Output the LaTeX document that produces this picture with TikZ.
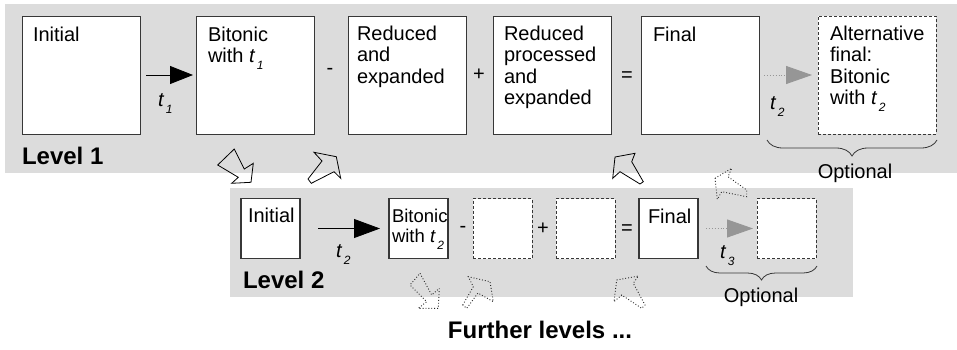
\documentclass[tikz,border=0pt]{standalone}
\usepackage{fontspec}
\setmainfont{Liberation Sans}
\usetikzlibrary{arrows.meta,decorations.pathreplacing,calc}
\definecolor{band}{RGB}{220,220,220}
\definecolor{edge}{RGB}{55,55,55}
\definecolor{optgray}{RGB}{150,150,150}
\newcommand{\tsub}[1]{\textit{t}\kern1.5pt\raisebox{-7pt}{\fontsize{12}{12}\selectfont\textit{#1}}}
\begin{document}
\begin{tikzpicture}[x=1pt,y=-1pt,
  every node/.style={inner sep=0pt, outer sep=0pt, font=\fontsize{20}{21.5}\selectfont},
  bigbox/.style={draw=edge, line width=0.9pt, fill=white, minimum width=118pt, minimum height=118pt, anchor=north west},
  bigdash/.style={bigbox, dash pattern=on 3pt off 2pt},
  smallbox/.style={draw=edge, line width=1.1pt, fill=white, minimum width=59pt, minimum height=60pt, anchor=north west},
  smalldash/.style={smallbox, line width=0.8pt, dash pattern=on 3pt off 2pt},
  boxtext/.style={anchor=north west, align=left},
  optext/.style={anchor=center},
  blkarrow/.style={-{Triangle[length=23pt,width=18pt]}, line width=0.8pt, draw=black},
  blkarrowb/.style={-{Triangle[length=26pt,width=19pt]}, line width=0.8pt, draw=black},
  grayarrow/.style={-{Triangle[length=26pt,width=18pt]}, line width=0.9pt, draw=optgray, dotted},
  brace/.style={decorate, decoration={brace, mirror, amplitude=#1}, line width=0.8pt, draw=edge},
  levellabel/.style={font=\fontsize{24}{24}\selectfont\bfseries},
  solidarr/.style={draw=black, line width=0.8pt, line join=miter},
  dotarr/.style={draw=black!85, line width=0.9pt, dotted, line join=miter}
]
\fill[white] (0,0) rectangle (957,349);
\useasboundingbox (0,0) rectangle (957,349);
% bands
\fill[band] (5,4) rectangle (957,173);
\fill[band] (230,188) rectangle (853,297);

% level 1 boxes
\node[bigbox] (b1) at (22,16) {};
\node[bigbox] (b2) at (196,16) {};
\node[bigbox] (b3) at (348,16) {};
\node[bigbox] (b4) at (493,16) {};
\node[bigbox] (b5) at (641,16) {};
\node[bigdash] (b6) at (818,16) {};

\node[boxtext] (l1) at (33,27) {Initial};
\node[boxtext] (l2) at (208,27) {Bitonic\\with \tsub{1}};
\node[boxtext] (l3) at (357,26) {Reduced\\and\\expanded};
\node[boxtext] (l4) at (504,26) {Reduced\\processed\\and\\expanded};
\node[boxtext] (l5) at (653,27) {Final};
\node[boxtext] (l6) at (830,26) {Alternative\\final:\\Bitonic\\with \tsub{2}};

\node[optext] (o1) at (330,71) {-};
\node[optext] (o2) at (479,75) {+};
\node[optext] (o3) at (627,77) {=};

\draw[blkarrow, shorten <=6pt, shorten >=3pt] (b1.east) -- (b2.west);
\draw[grayarrow, shorten <=5pt, shorten >=6pt] (b5.east) -- (b6.west);
\node[anchor=base west] (tl1) at (158,106) {\tsub{1}};
\node[anchor=base west] (tl2) at (770,109) {\tsub{2}};

\coordinate (br1s) at (767,140);
\coordinate (br1e) at (937,140);
\draw[brace=16pt] (br1s) -- (br1e);
\node[anchor=base] (opt1) at (855,178) {Optional};
\node[levellabel, anchor=base west] (lev1) at (22,164) {Level 1};

% level 2 boxes
\node[smallbox] (c1) at (241,198.5) {};
\node[smallbox] (c2) at (389,198.5) {};
\node[smalldash] (c3) at (473,198.5) {};
\node[smalldash] (c4) at (556,198.5) {};
\node[smallbox] (c5) at (639,198.5) {};
\node[smalldash] (c6) at (757,198.5) {};

\node[boxtext] (m1) at (248,208) {Initial};
\node[boxtext, font=\fontsize{18.5}{20}\selectfont] (m2) at (392,209) {Bitonic\\with \tsub{2}};
\node[boxtext] (m5) at (648,209) {Final};

\node[optext] (p1) at (463,229) {-};
\node[optext] (p2) at (543,229) {+};
\node[optext] (p3) at (627,230) {=};

\draw[blkarrowb, shorten <=18pt, shorten >=9pt] (c1.east) -- (c2.west);
\draw[grayarrow, shorten <=8pt, shorten >=4pt] (c5.east) -- (c6.west);
\node[anchor=base west] (tm1) at (336,257) {\tsub{2}};
\node[anchor=base west] (tm2) at (720,258) {\tsub{3}};

\coordinate (br2s) at (706,266);
\coordinate (br2e) at (817,266);
\draw[brace=14pt] (br2s) -- (br2e);
\node[anchor=base] (opt2) at (761,302) {Optional};
\node[levellabel, anchor=base west] (lev2) at (243,288) {Level 2};

\node[levellabel, anchor=base] (further) at (540,338) {Further levels ...};

% block arrows between levels
\draw[solidarr] (217.7,165) -- (234.3,149) -- (244.3,169) -- (253.3,163.3) -- (251,182.3) -- (231.7,183.3) -- (238.3,177.3) -- cycle;
\draw[solidarr] (308,179) -- (322,161) -- (314,152.3) -- (336.3,156.7) -- (340.7,178.3) -- (334,171.7) -- (311.3,183.3) -- cycle;
\draw[solidarr] (615,157) -- (635,153.3) -- (631.7,161.7) -- (643.3,181.7) -- (640,184) -- (620,171.7) -- (612.7,178.3) -- cycle;
\draw[dotarr] (715,178.3) -- (731.7,168.3) -- (728,176.7) -- (746.7,190) -- (746.7,196.7) -- (721.7,191.7) -- (717.3,199.3) -- cycle;
\draw[dotarr] (420,273.3) -- (431.7,295) -- (439.3,288.3) -- (438.3,308.3) -- (418.3,308.3) -- (426.7,301.7) -- (410,285) -- cycle;
\draw[dotarr] (462.7,305) -- (473.3,286.7) -- (468.3,276.7) -- (490,281.7) -- (493.3,301.7) -- (478,293) -- (466.7,308.3) -- cycle;
\draw[dotarr] (616.7,280) -- (638.3,276) -- (633.3,283.3) -- (645,305) -- (641.7,308.3) -- (621.7,295) -- (614,301.7) -- cycle;
\end{tikzpicture}
\end{document}
